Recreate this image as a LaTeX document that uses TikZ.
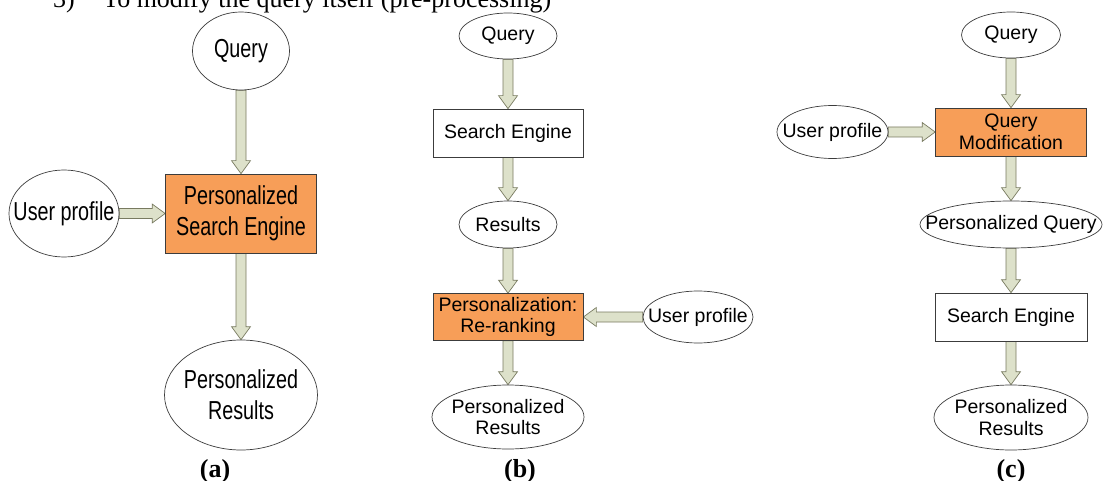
\documentclass[tikz,border=0pt]{standalone}
\usepackage{fontspec}
\setmainfont{Liberation Serif}
\newfontfamily\plainsans{Liberation Sans}
\newfontfamily\narrowsans[FakeStretch=0.76]{Liberation Sans}
\usetikzlibrary{shapes.geometric,calc,backgrounds}

\definecolor{boxorange}{RGB}{247,158,88}
\definecolor{arrowfill}{RGB}{221,225,202}
\definecolor{arrowline}{RGB}{120,122,96}
\definecolor{edgegray}{RGB}{60,60,60}

\tikzset{
  oval/.style={ellipse, draw=edgegray, fill=white, line width=0.7pt,
    inner sep=0pt},
  ovaltext/.style={inner sep=0pt, align=center},
  plainbox/.style={rectangle, draw=edgegray, fill=white, line width=0.7pt,
    inner sep=0pt, align=center},
  orangebox/.style={plainbox, fill=boxorange},
  bigtext/.style={font=\narrowsans\fontsize{26}{31}\selectfont},
  smalltext/.style={font=\plainsans\fontsize{19.5}{21.5}\selectfont},
  caption/.style={font=\bfseries\fontsize{26}{30}\selectfont, anchor=base,
    inner sep=0pt},
  bodytext/.style={font=\fontsize{26}{30}\selectfont, anchor=base west,
    inner sep=0pt},
}

% hollow block arrow from #1 to #2 (shaft 10 wide, head 19 wide and 13 long)
\newcommand\fatarrow[2]{%
  \begin{scope}[on background layer]
  \coordinate (hb) at ($(#2)!13pt!(#1)$);
  \filldraw[fill=arrowfill, draw=arrowline, line width=0.7pt, line join=miter]
    ($(#1)!5pt!90:(#2)$) -- ($(hb)!5pt!-90:(#1)$) -- ($(hb)!9.5pt!-90:(#1)$)
    -- (#2) -- ($(hb)!9.5pt!90:(#1)$) -- ($(hb)!5pt!90:(#1)$)
    -- ($(#1)!5pt!-90:(#2)$) -- cycle;
  \end{scope}}

\begin{document}
\begin{tikzpicture}[x=1pt, y=-1pt]
\useasboundingbox (0,0) rectangle (1103,481);

% heading line above the figure
\node[bodytext] (num) at (53,8) {3)};
\node[bodytext] (head) at (103,8) {To modify the query itself (pre-processing)};

% (a) personalized search engine
\node[oval, minimum width=97, minimum height=78] (qa) at (241,51) {};
\node[ovaltext, bigtext] (qa-t) at (qa) {Query};
\node[orangebox, bigtext, minimum width=151, minimum height=79] (pa) at (241,213.5)
  {Personalized\\Search Engine};
\node[oval, minimum width=110, minimum height=87] (ua) at (64,213.5) {};
\node[ovaltext, bigtext] (ua-t) at (ua) {User profile};
\node[oval, minimum width=153, minimum height=110] (ra) at (241,395) {};
\node[ovaltext, bigtext] (ra-t) at (ra) {Personalized\\Results};
\fatarrow{qa.south}{pa.north}
\fatarrow{ua.east}{pa.west}
\fatarrow{pa.south}{ra.north}
\node[caption] (capa) at (215,477) {(a)};

% (b) re-ranking after search
\node[oval, minimum width=98, minimum height=46] (qb) at (508,36) {};
\node[ovaltext, smalltext] (qb-t) at (qb) {Query};
\node[plainbox, smalltext, minimum width=150, minimum height=48] (sb) at (508,133) {Search Engine};
\node[oval, minimum width=98, minimum height=47] (rb) at (508,224.5) {};
\node[ovaltext, smalltext] (rb-t) at (rb) {Results};
\node[orangebox, smalltext, minimum width=150, minimum height=47] (pb) at (508,317)
  {Personalization:\\Re-ranking};
\node[oval, minimum width=110, minimum height=52] (ub) at (698,317) {};
\node[ovaltext, smalltext] (ub-t) at (ub) {User profile};
\node[oval, minimum width=152, minimum height=64] (prb) at (508,417) {};
\node[ovaltext, smalltext] (prb-t) at (prb) {Personalized\\Results};
\fatarrow{qb.south}{sb.north}
\fatarrow{sb.south}{rb.north}
\fatarrow{rb.south}{pb.north}
\fatarrow{ub.west}{pb.east}
\fatarrow{pb.south}{prb.north}
\node[caption] (capb) at (520,477) {(b)};

% (c) query modification before search
\node[oval, minimum width=99, minimum height=46] (qc) at (1011,35) {};
\node[ovaltext, smalltext] (qc-t) at (qc) {Query};
\node[orangebox, smalltext, minimum width=151, minimum height=48] (mc) at (1011,132)
  {Query\\Modification};
\node[oval, minimum width=111, minimum height=53] (uc) at (832.5,132) {};
\node[ovaltext, smalltext] (uc-t) at (uc) {User profile};
\node[oval, minimum width=182, minimum height=47] (pqc) at (1011,224.5) {};
\node[ovaltext, smalltext] (pqc-t) at (pqc) {Personalized Query};
\node[plainbox, smalltext, minimum width=152, minimum height=48] (sc) at (1011,317) {Search Engine};
\node[oval, minimum width=154, minimum height=65] (prc) at (1011,417.5) {};
\node[ovaltext, smalltext] (prc-t) at (prc) {Personalized\\Results};
\fatarrow{qc.south}{mc.north}
\fatarrow{uc.east}{mc.west}
\fatarrow{mc.south}{pqc.north}
\fatarrow{pqc.south}{sc.north}
\fatarrow{sc.south}{prc.north}
\node[caption] (capc) at (1011,477) {(c)};
\end{tikzpicture}
\end{document}
